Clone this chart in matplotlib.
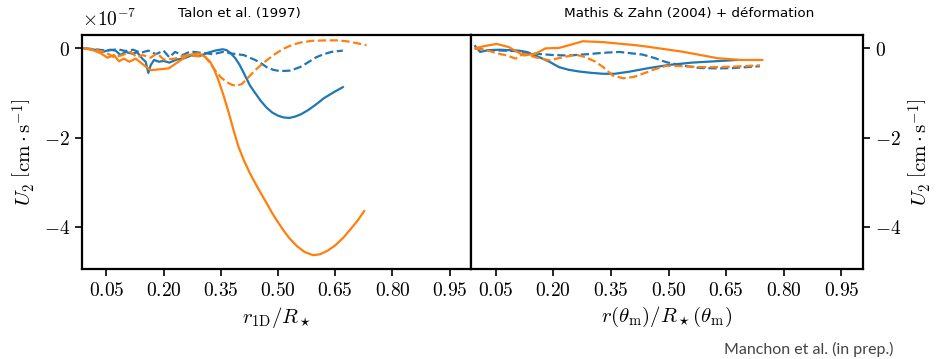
import numpy as np
import matplotlib
matplotlib.use("Agg")
import matplotlib.pyplot as plt
from matplotlib.ticker import FuncFormatter

# data, U_2 in units of 1e-7 cm/s
# left panel: Talon et al. (1997)
x_l_blue = [-0.008, 0.02, 0.04, 0.06, 0.074, 0.087, 0.1, 0.118, 0.131, 0.144, 0.153, 0.16, 0.166, 0.175,
            0.188, 0.2, 0.215, 0.235, 0.255, 0.275, 0.295, 0.315, 0.335, 0.355, 0.365, 0.375, 0.388,
            0.40, 0.413, 0.427, 0.44, 0.455, 0.47, 0.485, 0.50, 0.515, 0.53, 0.545, 0.56, 0.58,
            0.601, 0.62, 0.645, 0.67]
y_l_blue = [0.0, -0.03, -0.08, -0.03, -0.05, -0.15, -0.08, -0.12, -0.09, -0.23, -0.3, -0.55, -0.38, -0.26,
            -0.3, -0.28, -0.32, -0.25, -0.22, -0.15, -0.17, -0.1, -0.05, -0.02, -0.04, -0.1, -0.22,
            -0.38, -0.6, -0.84, -1.0, -1.18, -1.33, -1.44, -1.51, -1.55, -1.56, -1.53, -1.48, -1.38,
            -1.25, -1.12, -0.99, -0.87]

x_l_blue_d = [-0.008, 0.02, 0.05, 0.08, 0.1, 0.12, 0.14, 0.16, 0.18, 0.2, 0.215, 0.23, 0.25, 0.27, 0.3,
              0.33, 0.355, 0.382, 0.41, 0.44, 0.455, 0.47, 0.487, 0.505, 0.53, 0.545, 0.558, 0.572,
              0.585, 0.60, 0.62, 0.64, 0.67]
y_l_blue_d = [0.0, -0.02, -0.05, -0.02, -0.06, -0.03, -0.1, -0.05, -0.13, -0.05, -0.2, -0.08, -0.15, -0.07,
              -0.1, -0.13, -0.08, -0.12, -0.15, -0.26, -0.33, -0.42, -0.48, -0.51, -0.5, -0.46, -0.42,
              -0.35, -0.28, -0.2, -0.13, -0.08, -0.05]

x_l_orange = [-0.008, 0.015, 0.035, 0.053, 0.07, 0.083, 0.096, 0.11, 0.127, 0.149, 0.166, 0.188, 0.213,
              0.239, 0.265, 0.292, 0.309, 0.322, 0.333, 0.344, 0.357, 0.37, 0.383, 0.396, 0.41, 0.425,
              0.44, 0.453, 0.47, 0.485, 0.50, 0.514, 0.53, 0.55, 0.57, 0.592, 0.61, 0.63, 0.65,
              0.671, 0.69, 0.71, 0.726]
y_l_orange = [0.0, -0.04, -0.11, -0.21, -0.15, -0.29, -0.23, -0.3, -0.23, -0.38, -0.49, -0.47, -0.45,
              -0.3, -0.15, -0.11, -0.19, -0.3, -0.48, -0.72, -1.05, -1.42, -1.82, -2.2, -2.5, -2.78,
              -3.02, -3.22, -3.47, -3.7, -3.9, -4.08, -4.26, -4.44, -4.57, -4.64, -4.62, -4.54, -4.42,
              -4.25, -4.06, -3.85, -3.65]

x_l_orange_d = [-0.008, 0.02, 0.048, 0.07, 0.092, 0.114, 0.13, 0.145, 0.166, 0.183, 0.2, 0.23, 0.255,
                0.28, 0.309, 0.322, 0.335, 0.35, 0.366, 0.38, 0.392, 0.405, 0.418, 0.43, 0.444, 0.457,
                0.47, 0.49, 0.514, 0.535, 0.558, 0.59, 0.628, 0.655, 0.68, 0.705, 0.732]
y_l_orange_d = [0.0, -0.03, -0.09, -0.2, -0.15, -0.08, -0.2, -0.15, -0.21, -0.11, -0.25, -0.23, -0.16,
                -0.17, -0.19, -0.33, -0.49, -0.65, -0.76, -0.82, -0.84, -0.8, -0.69, -0.58, -0.46, -0.36,
                -0.27, -0.14, -0.01, 0.07, 0.13, 0.17, 0.18, 0.18, 0.16, 0.12, 0.07]

# right panel: Mathis & Zahn (2004) + deformation
x_r_blue = [-0.003, 0.01, 0.03, 0.06, 0.11, 0.13, 0.154, 0.19, 0.215, 0.24, 0.268, 0.3, 0.33, 0.36,
            0.40, 0.45, 0.503, 0.56, 0.62, 0.678]
y_r_blue = [0.05, -0.08, -0.04, -0.03, -0.05, -0.08, -0.16, -0.3, -0.42, -0.48, -0.52, -0.55, -0.57,
            -0.57, -0.52, -0.44, -0.37, -0.32, -0.29, -0.26]

x_r_blue_d = [-0.003, 0.03, 0.067, 0.1, 0.154, 0.2, 0.241, 0.29, 0.329, 0.372, 0.433, 0.465, 0.494,
              0.54, 0.582, 0.63, 0.67, 0.738]
y_r_blue_d = [0.0, -0.04, -0.05, -0.06, -0.12, -0.15, -0.16, -0.13, -0.1, -0.08, -0.14, -0.22, -0.31,
              -0.39, -0.44, -0.45, -0.44, -0.4]

x_r_orange = [-0.003, 0.02, 0.053, 0.084, 0.105, 0.123, 0.154, 0.18, 0.215, 0.241, 0.277, 0.33, 0.416,
              0.452, 0.54, 0.627, 0.688, 0.744]
y_r_orange = [0.0, 0.05, 0.1, 0.03, -0.07, -0.16, -0.12, 0.0, 0.01, 0.07, 0.16, 0.14, 0.07,
              0.03, -0.08, -0.22, -0.26, -0.26]

x_r_orange_d = [-0.003, 0.03, 0.058, 0.08, 0.102, 0.123, 0.154, 0.189, 0.224, 0.259, 0.285, 0.31,
                0.33, 0.355, 0.382, 0.41, 0.433, 0.46, 0.494, 0.54, 0.582, 0.63, 0.67, 0.738]
y_r_orange_d = [0.0, -0.05, -0.12, -0.16, -0.23, -0.12, -0.2, -0.27, -0.2, -0.14, -0.2, -0.3,
                -0.42, -0.61, -0.67, -0.64, -0.57, -0.48, -0.39, -0.4, -0.42, -0.42, -0.41, -0.38]

xticks = [0.05, 0.20, 0.35, 0.50, 0.65, 0.80, 0.95]
yticks = [0, -2, -4]

plt.rcParams['mathtext.fontset'] = 'cm'

blue = '#1f77b4'
orange = '#ff7f0e'

fig = plt.figure(figsize=(9.38, 3.59), dpi=100)
ax1 = fig.add_axes([0.0874, 0.2507, 0.4147, 0.6518])
ax2 = fig.add_axes([0.5021, 0.2507, 0.4179, 0.6518])

lw = 1.6
ax1.plot(x_l_blue, y_l_blue, color=blue, lw=lw)
ax1.plot(x_l_blue_d, y_l_blue_d, color=blue, lw=lw, ls='--')
ax1.plot(x_l_orange, y_l_orange, color=orange, lw=lw)
ax1.plot(x_l_orange_d, y_l_orange_d, color=orange, lw=lw, ls='--')

ax2.plot(x_r_blue, y_r_blue, color=blue, lw=lw)
ax2.plot(x_r_blue_d, y_r_blue_d, color=blue, lw=lw, ls='--')
ax2.plot(x_r_orange, y_r_orange, color=orange, lw=lw)
ax2.plot(x_r_orange_d, y_r_orange_d, color=orange, lw=lw, ls='--')

fmt_x = FuncFormatter(lambda v, p: f'${v:.2f}$')
fmt_y = FuncFormatter(lambda v, p: f'${v:g}$')

for ax in (ax1, ax2):
    ax.set_xlim(-0.014, 1.006)
    ax.set_ylim(-4.95, 0.3)
    ax.set_xticks(xticks)
    ax.set_yticks(yticks)
    ax.xaxis.set_major_formatter(fmt_x)
    ax.yaxis.set_major_formatter(fmt_y)
    ax.tick_params(direction='out', length=5, width=1.2, labelsize=14)
    for s in ax.spines.values():
        s.set_linewidth(1.6)

ylab = r'$U_2\ \left[\mathrm{cm}\cdot\mathrm{s}^{-1}\right]$'
ax1.set_ylabel(ylab, fontsize=15)
ax1.set_xlabel(r'$r_{\rm 1D}/R_\star$', fontsize=15)
ax1.text(0.0, 1.02, r'$\times10^{-7}$', transform=ax1.transAxes, fontsize=14, ha='left', va='bottom')

ax2.yaxis.tick_right()
ax2.yaxis.set_label_position('right')
ax2.set_ylabel(ylab, fontsize=15)
ax2.set_xlabel(r'$r(\theta_{\rm m})/R_\star(\theta_{\rm m})$', fontsize=15)

fig.text(239 / 938, 1 - 13 / 359, 'Talon et al. (1997)', fontsize=9.7, ha='center', va='center')
fig.text(689 / 938, 1 - 13 / 359, 'Mathis & Zahn (2004) + déformation', fontsize=9.7, ha='center', va='center')
fig.text(893 / 938, 1 - 349 / 359, 'Manchon et al. (in prep.)', fontsize=11.5, ha='right', va='center',
         color='#444444', family='Lato')

fig.savefig('out.png', dpi=100)
